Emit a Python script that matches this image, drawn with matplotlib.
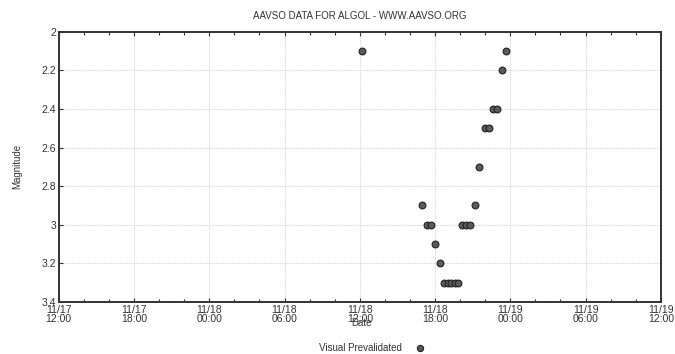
import matplotlib
matplotlib.use("Agg")
import matplotlib.pyplot as plt
import matplotlib.dates as mdates
import pandas as pd

plt.rcParams['font.family'] = ['Liberation Sans', 'DejaVu Sans']

title = "AAVSO DATA FOR ALGOL - WWW.AAVSO.ORG"
series_name = "Visual Prevalidated"
obs_times = ["2017-11-18 12:10", "2017-11-18 16:58", "2017-11-18 17:20", "2017-11-18 17:40",
             "2017-11-18 18:02", "2017-11-18 18:22", "2017-11-18 18:44", "2017-11-18 19:01",
             "2017-11-18 19:17", "2017-11-18 19:34", "2017-11-18 19:51", "2017-11-18 20:10",
             "2017-11-18 20:29", "2017-11-18 20:48", "2017-11-18 21:12", "2017-11-18 21:30",
             "2017-11-18 21:58", "2017-11-18 22:17", "2017-11-18 22:36", "2017-11-18 22:54",
             "2017-11-18 23:20", "2017-11-18 23:41"]
magnitudes = [2.1, 2.9, 3.0, 3.0, 3.1, 3.2, 3.3, 3.3, 3.3, 3.3, 3.3, 3.0, 3.0, 3.0,
              2.9, 2.7, 2.5, 2.5, 2.4, 2.4, 2.2, 2.1]
x_start = "2017-11-17 12:00"
x_end = "2017-11-19 12:00"
y_ticks = [2, 2.2, 2.4, 2.6, 2.8, 3, 3.2, 3.4]
y_tick_labels = ["2", "2.2", "2.4", "2.6", "2.8", "3", "3.2", "3.4"]

times = pd.to_datetime(obs_times)

fig = plt.figure(figsize=(6.75, 3.54), dpi=100)
ax = fig.add_axes([0.087, 0.147, 0.892, 0.763])

ax.scatter(times, magnitudes, s=24, marker='o', facecolor='#5a5a5a', edgecolor='#222222',
           linewidths=0.8, zorder=3)

ax.set_xlim(pd.Timestamp(x_start), pd.Timestamp(x_end))
ax.set_ylim(3.4, 2.0)
ax.set_yticks(y_ticks)
ax.set_yticklabels(y_tick_labels)

ax.xaxis.set_major_locator(mdates.HourLocator(byhour=[0, 6, 12, 18]))
ax.xaxis.set_minor_locator(mdates.HourLocator(byhour=range(0, 24, 2)))
ax.xaxis.set_major_formatter(mdates.DateFormatter("%m/%d\n%H:%M"))

ax.grid(True, which='major', color='#dcdcdc', linewidth=0.8, linestyle=(0, (1, 0.6)))
ax.set_axisbelow(True)

for s in ax.spines.values():
    s.set_color('#333333')
    s.set_linewidth(1.4)

ax.tick_params(axis='both', which='major', direction='in', length=3, width=0.8,
               colors='#333333', labelsize=7.5, top=True, right=False, pad=2)
ax.tick_params(axis='x', which='minor', direction='in', length=2, width=0.8,
               colors='#333333', top=True)
for lab in ax.get_xticklabels():
    lab.set_linespacing(0.9)

ax.set_title(title, fontsize=7, color='#333333', pad=9)
ax.set_ylabel("Magnitude", fontsize=7, color='#333333', labelpad=14)
fig.text(0.536, 0.088, "Date", fontsize=7, color='#333333', ha='center', va='center')

fig.text(0.595, 0.017, series_name, fontsize=7, color='#333333', ha='right', va='center')
fig.lines.append(plt.Line2D([0.622], [0.017], transform=fig.transFigure, marker='o',
                            markersize=4.5, markerfacecolor='#5a5a5a',
                            markeredgecolor='#222222', markeredgewidth=0.8, linestyle='none'))

fig.savefig("out.png", dpi=100)
